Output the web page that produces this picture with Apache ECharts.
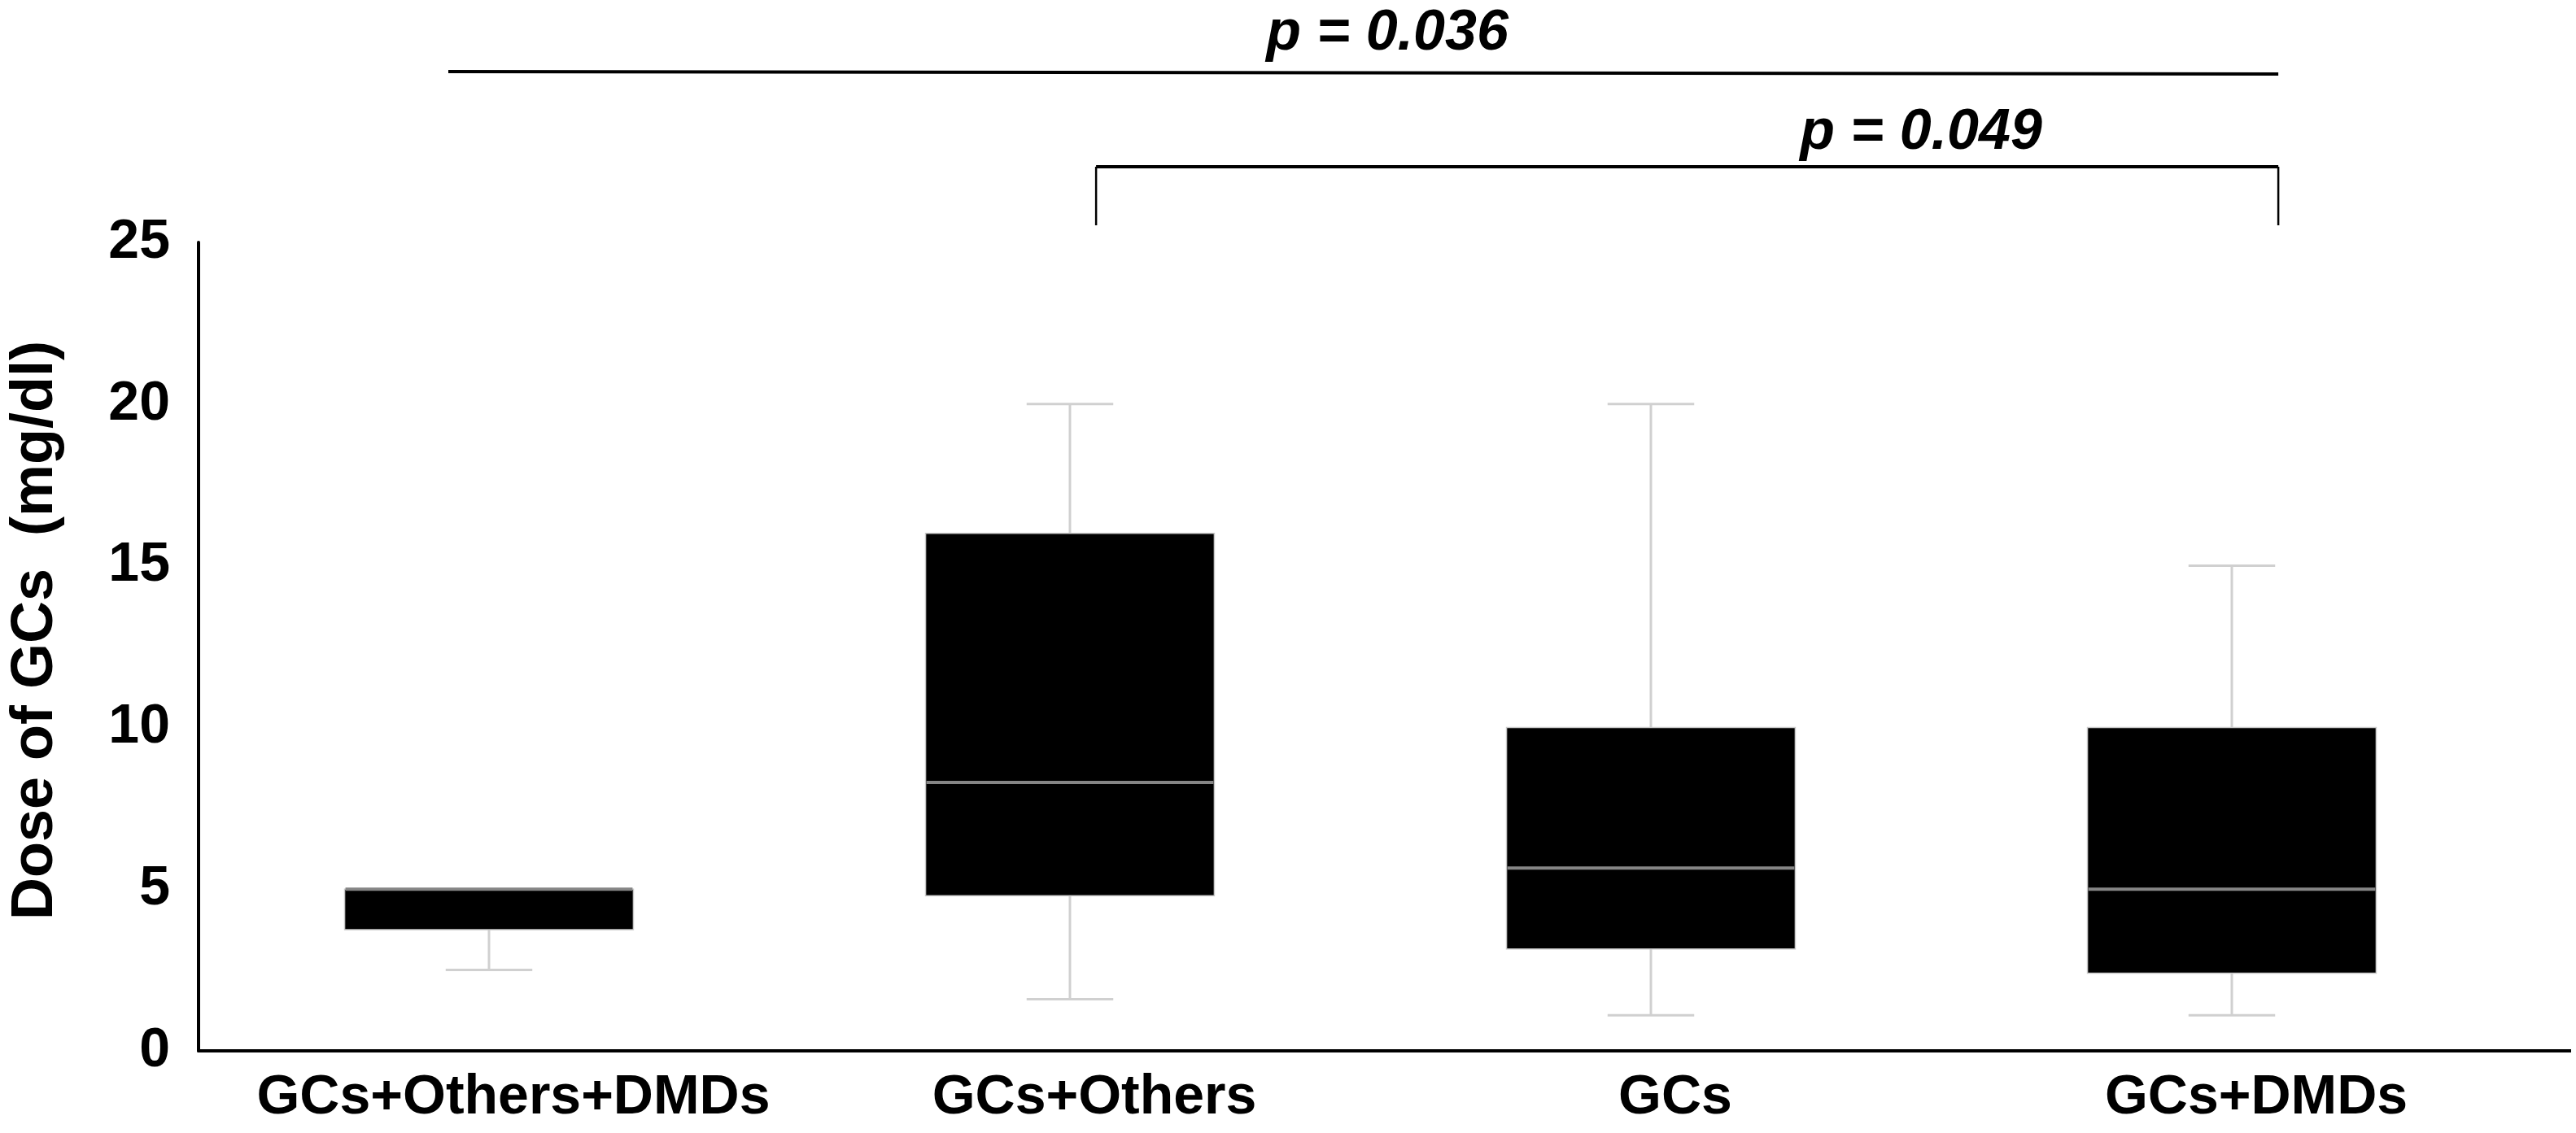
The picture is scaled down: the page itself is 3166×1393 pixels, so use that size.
<!DOCTYPE html>
<html lang="en">

<head>
    <meta charset="UTF-8">
    <title>Dose of GCs</title>
    <script src="https://cdn.jsdelivr.net/npm/echarts@6.0.0/dist/echarts.min.js"></script>
    <style>
        html, body { margin: 0; padding: 0; background: #fff; }
    </style>
</head>

<body>
    <div id="main" style="width: 3166px;height:1393px;"></div>
    <script type="text/javascript">
        // groups on the x axis
        const categories = ['GCs+Others+DMDs', 'GCs+Others', 'GCs', 'GCs+DMDs'];

        // five-number summaries (mg/dl)
        const mins = [2.5, 1.6, 1.1, 1.1];
        const q1s = [3.75, 4.8, 3.15, 2.4];
        const medians = [5, 8.3, 5.65, 5];
        const q3s = [5, 16, 10, 10];
        const maxs = [5, 20, 20, 15];

        // y axis ticks
        const yTicks = [0, 5, 10, 15, 20, 25];

        // significance labels (top bracket, lower bracket)
        const pLabels = ['p = 0.036', 'p = 0.049'];

        const FONT = '"Liberation Sans", Arial, sans-serif';

        let myChart = echarts.init(document.getElementById('main'));

        const boxData = categories.map((c, i) => [i, mins[i], q1s[i], medians[i], q3s[i], maxs[i]]);

        function renderBox(params, api) {
            const x = api.value(0);
            const pMin = api.coord([x, api.value(1)]);
            const pQ1 = api.coord([x, api.value(2)]);
            const pMed = api.coord([x, api.value(3)]);
            const pQ3 = api.coord([x, api.value(4)]);
            const pMax = api.coord([x, api.value(5)]);
            const band = api.size([1, 0])[0];
            const boxW = band * 0.497;
            const capW = boxW * 0.3;
            const cx = pMed[0];
            const whisker = { stroke: '#d0d0d0', lineWidth: 3 };
            const children = [];
            if (api.value(1) < api.value(2)) {
                children.push({ type: 'line', shape: { x1: cx, y1: pMin[1], x2: cx, y2: pQ1[1] }, style: whisker });
                children.push({ type: 'line', shape: { x1: cx - capW / 2, y1: pMin[1], x2: cx + capW / 2, y2: pMin[1] }, style: whisker });
            }
            if (api.value(5) > api.value(4)) {
                children.push({ type: 'line', shape: { x1: cx, y1: pMax[1], x2: cx, y2: pQ3[1] }, style: whisker });
                children.push({ type: 'line', shape: { x1: cx - capW / 2, y1: pMax[1], x2: cx + capW / 2, y2: pMax[1] }, style: whisker });
            }
            children.push({
                type: 'rect',
                shape: { x: cx - boxW / 2, y: pQ3[1], width: boxW, height: pQ1[1] - pQ3[1] },
                style: { fill: '#000', stroke: '#c8c8c8', lineWidth: 1.5 }
            });
            children.push({
                type: 'line',
                shape: { x1: cx - boxW / 2 + 1, y1: pMed[1], x2: cx + boxW / 2 - 1, y2: pMed[1] },
                style: { stroke: '#858585', lineWidth: 4 }
            });
            return { type: 'group', children: children };
        }

        let options = {
            backgroundColor: '#fff',
            animation: false,
            grid: { left: 240, top: 298, bottom: 101, width: 2860 },
            xAxis: {
                type: 'category',
                data: categories,
                axisLine: { lineStyle: { color: '#000', width: 4 } },
                axisTick: { show: false },
                axisLabel: {
                    interval: 0,
                    color: '#000', fontSize: 68, fontWeight: 'bold', fontFamily: FONT, margin: 24,
                    padding: [0, 0, 0, 60]
                },
                splitLine: { show: false }
            },
            yAxis: {
                type: 'value',
                min: yTicks[0],
                max: yTicks[yTicks.length - 1],
                interval: 5,
                name: 'Dose of GCs  (mg/dl)',
                nameLocation: 'middle',
                nameGap: 164,
                nameTextStyle: {
                    color: '#000', fontSize: 72, fontWeight: 'bold', fontFamily: FONT,
                    padding: [0, 0, 0, 40]
                },
                axisLine: { show: true, lineStyle: { color: '#000', width: 4 } },
                axisTick: { show: false },
                axisLabel: {
                    color: '#000', fontSize: 68, fontWeight: 'bold', fontFamily: FONT, margin: 35
                },
                splitLine: { show: false }
            },
            series: [{
                name: 'Dose of GCs',
                type: 'custom',
                renderItem: renderBox,
                encode: { x: 0, y: [1, 2, 3, 4, 5] },
                data: boxData
            }]
        };

        myChart.setOption(options);

        // significance brackets, placed from the category axis positions
        const px = i => myChart.convertToPixel({ xAxisIndex: 0 }, i);
        const band = px(1) - px(0);
        const y0 = myChart.convertToPixel({ yAxisIndex: 0 }, 0);
        const xLeft1 = px(0) - 0.07 * band;
        const xLeft2 = px(1) + 0.045 * band;
        const xRight = px(3) + 0.08 * band;
        const textStyle = {
            fill: '#000', fontSize: 70, fontWeight: 'bold', fontStyle: 'italic',
            fontFamily: FONT, align: 'center', verticalAlign: 'middle'
        };

        myChart.setOption({
            graphic: [
                // x axis line carries on past the last group
                { type: 'line', shape: { x1: px(3) + band / 2 - 2, y1: y0, x2: 3160, y2: y0 }, style: { stroke: '#000', lineWidth: 4 } },
                { type: 'line', shape: { x1: xLeft1, y1: 88, x2: xRight, y2: 91 }, style: { stroke: '#000', lineWidth: 4 } },
                { type: 'text', x: 1705, y: 42, style: Object.assign({ text: pLabels[0] }, textStyle) },
                { type: 'line', shape: { x1: xLeft2, y1: 205, x2: xRight, y2: 205 }, style: { stroke: '#000', lineWidth: 4 } },
                { type: 'line', shape: { x1: xLeft2, y1: 205, x2: xLeft2, y2: 277 }, style: { stroke: '#000', lineWidth: 2.5 } },
                { type: 'line', shape: { x1: xRight, y1: 205, x2: xRight, y2: 277 }, style: { stroke: '#000', lineWidth: 2.5 } },
                { type: 'text', x: 2361, y: 164, style: Object.assign({ text: pLabels[1] }, textStyle) }
            ]
        });
    </script>
</body>

</html>
